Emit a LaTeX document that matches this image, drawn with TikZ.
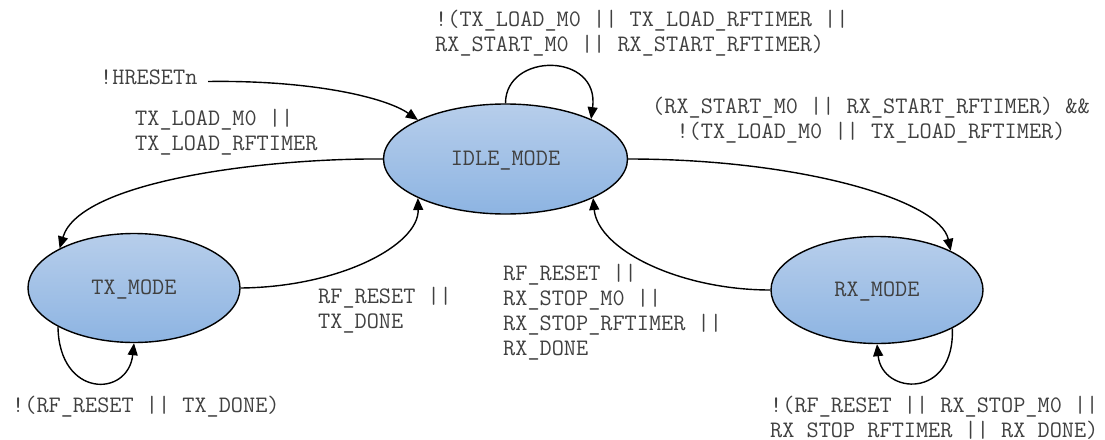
\documentclass[tikz,border=0pt]{standalone}
\usepackage{fontspec}
\usetikzlibrary{arrows.meta,shapes.geometric}
\definecolor{txtc}{rgb}{0.25,0.25,0.25}
\definecolor{topblue}{RGB}{183,206,235}
\definecolor{botblue}{RGB}{141,180,226}
\newcommand{\lblfont}{\ttfamily\fontsize{23.6}{25}\selectfont}
\tikzset{
  state/.style={ellipse, draw=black, line width=1.4pt, inner sep=0pt,
    top color=topblue, bottom color=botblue, text=txtc,
    font=\lblfont, text height=13pt, text depth=0pt},
  lbl/.style={inner sep=0pt, text=txtc, font=\lblfont},
  conn/.style={line width=1.4pt, draw=black, -{Triangle[length=12pt,width=10pt]}}
}
\begin{document}
\begin{tikzpicture}[x=1pt,y=-1pt]
\useasboundingbox (0,0) rectangle (1105,439);
% states
\node[state, minimum width=244pt, minimum height=110pt] (idle) at (505.5,159) {IDLE\_MODE};
\node[state, minimum width=212pt, minimum height=109pt] (tx) at (134,288) {TX\_MODE};
\node[state, minimum width=212pt, minimum height=107pt] (rx) at (877,290) {RX\_MODE};
% labels
\node[lbl, anchor=base west] (lreset) at (100,84.5) {!HRESETn};
\coordinate (hs) at (208,81.5);
\node[lbl, anchor=base west] (lidle) at (435,26.5) {\begin{tabular}[t]{@{}l@{}}!(TX\_LOAD\_M0 || TX\_LOAD\_RFTIMER ||\\RX\_START\_M0 || RX\_START\_RFTIMER)\end{tabular}};
\node[lbl, anchor=base west] (ltxin) at (135,125) {\begin{tabular}[t]{@{}l@{}}TX\_LOAD\_M0 ||\\TX\_LOAD\_RFTIMER\end{tabular}};
\node[lbl, anchor=base] (lrxin) at (871,113) {\begin{tabular}[t]{@{}c@{}}(RX\_START\_M0 || RX\_START\_RFTIMER) \&\&\\!(TX\_LOAD\_M0 || TX\_LOAD\_RFTIMER)\end{tabular}};
\node[lbl, anchor=base west] (ltxout) at (318,303) {\begin{tabular}[t]{@{}l@{}}RF\_RESET ||\\TX\_DONE\end{tabular}};
\node[lbl, anchor=base west] (ltxself) at (12,412) {!(RF\_RESET || TX\_DONE)};
\node[lbl, anchor=base west] (lrxout) at (503,280) {\begin{tabular}[t]{@{}l@{}}RF\_RESET ||\\RX\_STOP\_M0 ||\\RX\_STOP\_RFTIMER ||\\RX\_DONE\end{tabular}};
\node[lbl, anchor=base west] (lrxself) at (770,412) {\begin{tabular}[t]{@{}l@{}}!(RF\_RESET || RX\_STOP\_M0 ||\\RX\_STOP\_RFTIMER || RX\_DONE)\end{tabular}};
% connectors
\draw[conn] (hs) .. controls (310,80) and (385,97) .. (idle.156);
\draw[conn] (idle.90) .. controls (505.5,52) and (600,52) .. (idle.25);
\draw[conn] (idle.west) .. controls (270,158) and (80,180) .. (tx.152);
\draw[conn] (tx.east) .. controls (340,287) and (419,245) .. (idle.-156);
\draw[conn] (tx.207) .. controls (59,398) and (128,398) .. (tx.270);
\draw[conn] (idle.east) .. controls (800,159) and (940,200) .. (rx.28);
\draw[conn] (rx.west) .. controls (680,290) and (598,250) .. (idle.-24);
\draw[conn] (rx.-27) .. controls (955,400) and (882,395) .. (rx.270);
\end{tikzpicture}
\end{document}
